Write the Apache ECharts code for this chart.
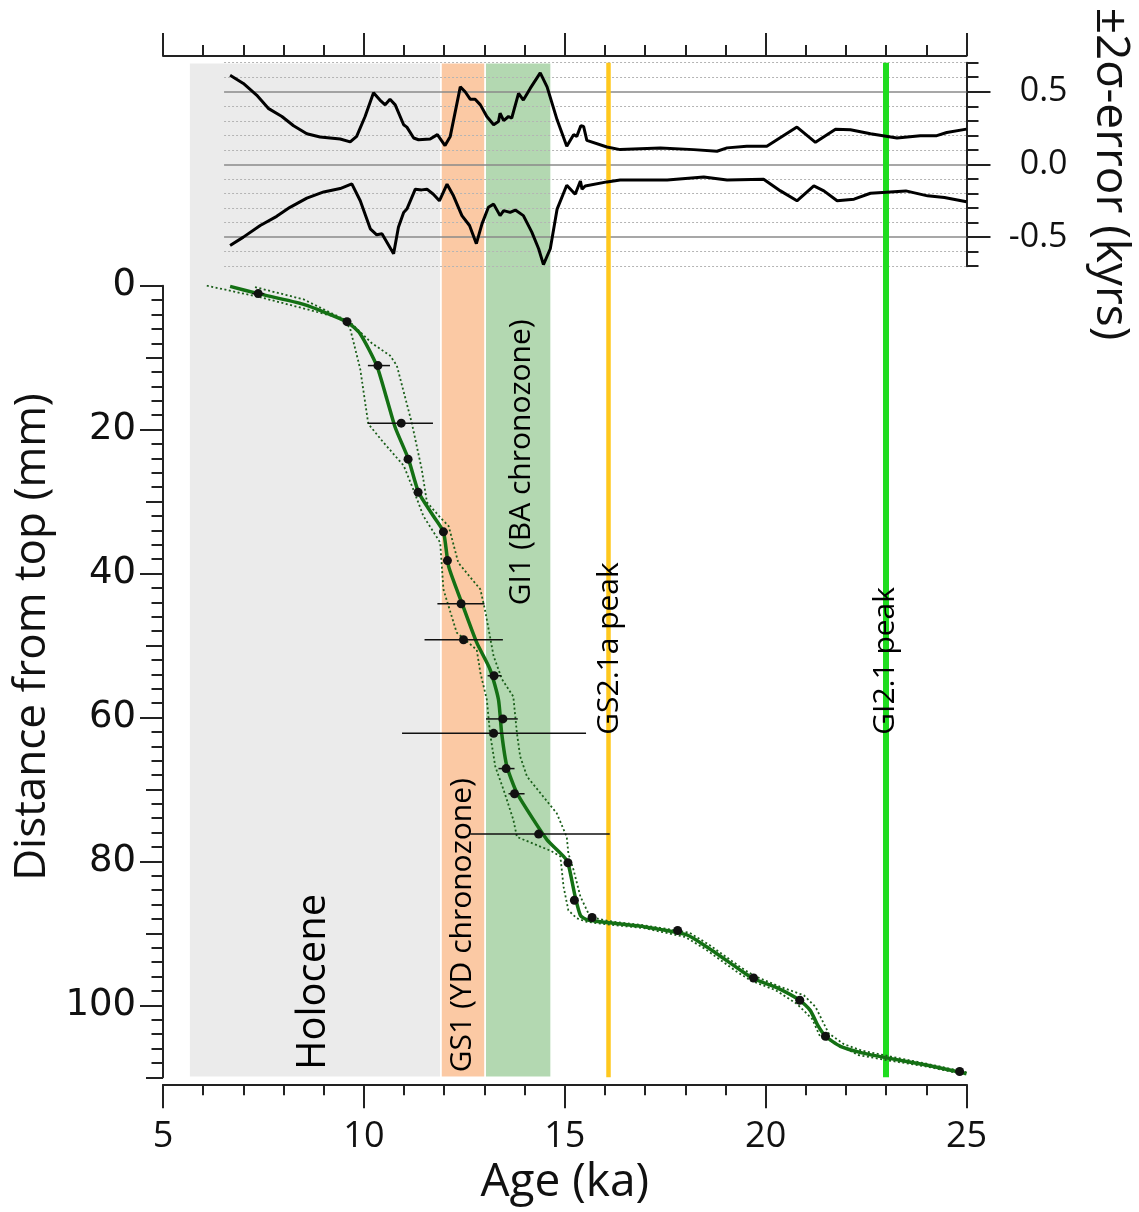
<!DOCTYPE html>
<html>
<head>
<meta charset="utf-8">
<script src="https://cdn.jsdelivr.net/npm/echarts@6.0.0/dist/echarts.min.js"></script>
<style>
html, body { margin: 0; padding: 0; background: #fff; }
#main { width: 1139px; height: 1212px; }
</style>
</head>
<body>
<div id="main"></div>
<script>
// upper panel: +/- 2 sigma age error (age ka, kyrs)
var errPlus = [[6.67,0.614],[7.0,0.557],[7.33,0.477],[7.62,0.386],[7.96,0.33],[8.25,0.266],[8.58,0.211],[8.91,0.189],[9.41,0.175],[9.66,0.155],[9.82,0.193],[10.03,0.33],[10.24,0.493],[10.40,0.443],[10.53,0.41],[10.65,0.448],[10.78,0.41],[10.99,0.273],[11.07,0.257],[11.24,0.182],[11.36,0.17],[11.65,0.175],[11.83,0.205],[12.02,0.13],[12.15,0.193],[12.40,0.534],[12.52,0.5],[12.65,0.448],[12.77,0.448],[12.90,0.41],[13.06,0.33],[13.23,0.273],[13.35,0.295],[13.39,0.352],[13.48,0.302],[13.60,0.33],[13.68,0.318],[13.85,0.489],[13.97,0.443],[14.14,0.523],[14.39,0.63],[14.56,0.534],[14.81,0.307],[15.05,0.125],[15.22,0.205],[15.30,0.193],[15.40,0.266],[15.47,0.261],[15.55,0.166],[16.05,0.12],[16.38,0.102],[17.38,0.114],[18.21,0.102],[18.79,0.091],[19.04,0.114],[19.53,0.125],[20.03,0.125],[20.78,0.257],[21.24,0.152],[21.74,0.243],[22.11,0.239],[22.61,0.211],[23.27,0.182],[23.85,0.198],[24.26,0.198],[24.51,0.22],[25.0,0.243]];
var errMinus = [[6.67,-0.557],[7.0,-0.5],[7.42,-0.42],[7.83,-0.357],[8.16,-0.295],[8.58,-0.232],[9.0,-0.189],[9.41,-0.166],[9.70,-0.134],[9.91,-0.25],[10.16,-0.443],[10.32,-0.484],[10.45,-0.477],[10.74,-0.614],[10.86,-0.432],[10.99,-0.33],[11.07,-0.307],[11.28,-0.17],[11.44,-0.175],[11.57,-0.17],[11.73,-0.205],[11.88,-0.25],[12.07,-0.136],[12.23,-0.216],[12.44,-0.352],[12.63,-0.42],[12.80,-0.545],[12.94,-0.409],[13.10,-0.295],[13.23,-0.273],[13.39,-0.352],[13.48,-0.318],[13.64,-0.33],[13.77,-0.314],[13.97,-0.352],[14.18,-0.466],[14.35,-0.58],[14.47,-0.689],[14.64,-0.58],[14.81,-0.307],[15.05,-0.143],[15.26,-0.205],[15.39,-0.114],[15.43,-0.17],[15.51,-0.148],[16.05,-0.12],[16.38,-0.107],[17.55,-0.107],[18.46,-0.086],[19.04,-0.107],[19.95,-0.102],[20.37,-0.182],[20.78,-0.25],[21.20,-0.148],[21.45,-0.182],[21.78,-0.25],[22.20,-0.239],[22.61,-0.198],[23.49,-0.182],[24.03,-0.216],[24.45,-0.227],[25.0,-0.257]];
var errDotted = [0.7, 0.6, 0.4, 0.3, 0.2, 0.1, -0.1, -0.2, -0.3, -0.4, -0.6, -0.7];
var errSolid = [0.5, 0, -0.5];
var errTicks = [-0.5, 0, 0.5];

// age model (age ka, depth mm)
var modelMedian = [[6.67,0.1],[7.37,1.1],[8.5,2.6],[9.57,5.0],[9.91,6.7],[10.32,11.1],[10.57,15.7],[10.78,19.7],[11.11,24.1],[11.36,28.7],[11.73,32.0],[11.98,34.2],[12.11,39.0],[12.44,44.1],[12.81,49.6],[13.14,53.3],[13.35,57.5],[13.43,62.2],[13.56,66.8],[13.81,70.5],[14.22,74.2],[14.56,77.0],[14.97,79.3],[15.08,80.2],[15.26,84.9],[15.39,87.5],[15.55,88.1],[16.05,88.5],[17.0,89.1],[18.04,90.2],[18.54,91.9],[19.37,95.1],[19.70,96.3],[20.3,97.6],[20.85,99.3],[21.11,100.7],[21.3,102.8],[21.49,104.3],[21.86,105.7],[22.4,106.6],[23.02,107.3],[24.0,108.3],[24.93,109.4],[25.0,109.5]];
var modelYoung = [[6.09,0.0],[7.42,1.6],[9.49,4.6],[9.66,6.0],[9.91,11.6],[10.11,19.2],[10.49,21.8],[10.99,25.0],[11.23,28.3],[11.48,32.0],[11.9,35.7],[11.98,42.2],[12.31,48.2],[12.81,50.6],[12.90,53.8],[13.06,57.5],[13.14,62.2],[13.27,66.8],[13.48,70.1],[13.72,74.2],[13.81,76.6],[14.64,78.5],[14.89,79.3],[14.97,83.5],[15.09,86.8],[15.30,87.9],[15.55,88.4],[16.0,88.7],[17.0,89.3],[18.0,90.5],[18.5,92.2],[19.3,95.4],[19.65,96.6],[20.25,97.9],[20.78,99.8],[21.16,101.9],[21.36,104.4],[21.69,105.1],[22.3,106.9],[23.0,107.6],[24.0,108.5],[24.95,109.6]];
var modelOld = [[7.29,0.2],[8.5,1.9],[9.66,5.1],[10.2,8.0],[10.65,9.7],[10.82,11.1],[11.19,19.0],[11.44,25.5],[11.57,30.1],[11.9,32.2],[12.11,33.4],[12.35,38.5],[12.9,42.2],[13.02,45.2],[13.23,51.5],[13.44,54.7],[13.72,57.1],[13.81,62.2],[13.89,65.4],[14.06,68.2],[14.80,73.3],[15.05,76.6],[15.09,78.9],[15.22,81.2],[15.39,84.9],[15.63,87.7],[16.1,88.3],[17.0,88.9],[18.1,89.9],[18.6,91.6],[19.4,94.8],[19.75,96.0],[20.35,97.4],[20.95,98.6],[21.24,100.2],[21.57,103.9],[21.95,105.4],[22.4,106.3],[23.1,107.1],[24.0,108.1],[25.0,109.3]];

// dated samples: age, depth, min age, max age
var dates = [[7.37,1.1,7.22,7.52],[9.58,5.0,9.48,9.68],[10.35,11.1,10.1,10.65],[10.93,19.1,10.1,11.72],[11.1,24.1,11.0,11.2],[11.35,28.7,11.27,11.43],[11.98,34.2,11.88,12.08],[12.08,38.2,12.0,12.16],[12.42,44.2,11.83,13.0],[12.48,49.2,11.51,13.46],[13.24,54.2,13.08,13.42],[13.46,60.2,13.04,13.83],[13.23,62.2,10.95,15.53],[13.54,67.1,13.35,13.75],[13.75,70.6,13.6,14.0],[14.35,76.2,12.65,16.12],[15.08,80.2,14.98,15.18],[15.24,85.4,15.16,15.32],[15.68,87.8,15.6,15.76],[17.81,89.6,17.71,17.91],[19.70,96.2,19.6,19.8],[20.85,99.3,20.75,20.95],[21.49,104.3,21.39,21.59],[24.83,109.2,24.73,24.93]];
var depthTicks = [0, 20, 40, 60, 80, 100];

var bands = [
    { from: 5.65, to: 11.92, color: '#ebebeb' },
    { from: 11.92, to: 13.02, color: '#fbc9a4' },
    { from: 13.02, to: 14.66, color: '#b3d8b1' }
];
var peaks = [
    { age: 16.08, color: '#ffc81e', width: 4.5 },
    { age: 23.0, color: '#1fdc1f', width: 6 }
];
// label text, age, depth of text start, font size
var zoneLabels = [
    ['Holocene', 8.74, 109.0, 40],
    ['GS1 (YD chronozone)', 12.45, 109.3, 30],
    ['GI1 (BA chronozone)', 13.92, 44.4, 30],
    ['GS2.1a peak', 16.11, 62.4, 30],
    ['GI2.1 peak', 22.98, 62.4, 30]
];

var axisColor = '#222';
var font = '"Open Sans", "DejaVu Sans", sans-serif';

var myChart = echarts.init(document.getElementById('main'));

var gridLines = [];
for (var i = 0; i < errDotted.length; i++) {
    gridLines.push([{ coord: [6.52, errDotted[i]], lineStyle: { color: '#b4b4b4', width: 1, type: [2, 2] } }, { coord: [25, errDotted[i]] }]);
}
for (var i = 0; i < errSolid.length; i++) {
    gridLines.push([{ coord: [6.52, errSolid[i]], lineStyle: { color: '#8a8a8a', width: 1.5, type: 'solid' } }, { coord: [25, errSolid[i]] }]);
}

var option = {
    animation: false,
    backgroundColor: '#fff',
    grid: [
        { left: 163, top: 62.7, width: 803.5, height: 1014.6 },
        { left: 163, top: 62.7, width: 803.5, height: 203.5 },
        { left: 163, top: 285.7, width: 803.5, height: 791.6 }
    ],
    xAxis: [
        { gridIndex: 0, type: 'value', min: 5, max: 25, show: false },
        {
            gridIndex: 1, type: 'value', min: 5, max: 25, interval: 5, position: 'top', offset: 6.7,
            axisLine: { onZero: false, lineStyle: { color: axisColor, width: 2 } },
            axisTick: { length: 23, lineStyle: { color: axisColor, width: 2 } },
            minorTick: { show: true, splitNumber: 5, length: 11, lineStyle: { color: axisColor, width: 2 } },
            axisLabel: { show: false },
            splitLine: { show: false }
        },
        {
            gridIndex: 2, type: 'value', min: 5, max: 25, interval: 5, position: 'bottom', offset: 7,
            axisLine: { onZero: false, lineStyle: { color: axisColor, width: 2 } },
            axisTick: { length: 24, lineStyle: { color: axisColor, width: 2 } },
            minorTick: { show: true, splitNumber: 5, length: 11, lineStyle: { color: axisColor, width: 2 } },
            axisLabel: { margin: 34, fontSize: 36, color: '#111', fontFamily: '"Liberation Sans Narrow", "Open Sans", sans-serif' },
            splitLine: { show: false },
            name: 'Age (ka)', nameLocation: 'middle', nameGap: 76,
            nameTextStyle: { fontSize: 46, color: '#111', fontFamily: font }
        }
    ],
    yAxis: [
        { gridIndex: 0, type: 'value', min: 0, max: 1, show: false },
        {
            gridIndex: 1, type: 'value', min: -0.7, max: 0.7, interval: 0.1, position: 'right',
            axisLine: { show: true, onZero: false, lineStyle: { color: axisColor, width: 2 } },
            axisTick: { length: 12, lineStyle: { color: axisColor, width: 2 } },
            axisLabel: { show: false },
            splitLine: { show: false }
        },
        {
            gridIndex: 1, type: 'value', min: -0.7, max: 0.7, position: 'right',
            axisLine: { show: false, onZero: false },
            axisTick: { length: 24, customValues: errTicks, lineStyle: { color: axisColor, width: 2 } },
            axisLabel: {
                customValues: errTicks, align: 'right', margin: 101, fontSize: 34, color: '#111', fontFamily: font,
                formatter: function (v) { return v.toFixed(1); }
            },
            splitLine: { show: false }
        },
        {
            gridIndex: 2, type: 'value', min: 0, max: 110, inverse: true, position: 'left',
            axisLine: { show: true, onZero: false, lineStyle: { color: axisColor, width: 2 } },
            axisTick: { length: 23, customValues: depthTicks, lineStyle: { color: axisColor, width: 2 } },
            axisLabel: { customValues: depthTicks, margin: 27, fontSize: 37, color: '#111', fontFamily: '"DejaVu Sans", sans-serif' },
            splitLine: { show: false }
        },
        {
            gridIndex: 2, type: 'value', min: 0, max: 110, inverse: true, interval: 10, position: 'left',
            axisLine: { show: false, onZero: false },
            axisTick: { length: 17, lineStyle: { color: axisColor, width: 2 } },
            axisLabel: { show: false },
            splitLine: { show: false }
        },
        {
            gridIndex: 2, type: 'value', min: 0, max: 110, inverse: true, interval: 2, position: 'left',
            axisLine: { show: false, onZero: false },
            axisTick: { length: 11.5, lineStyle: { color: axisColor, width: 2 } },
            axisLabel: { show: false },
            splitLine: { show: false }
        }
    ],
    graphic: [
        {
            type: 'text', x: 32, y: 637, rotation: Math.PI / 2,
            style: { text: 'Distance from top (mm)', font: '44px "Open Sans", sans-serif', fill: '#111', align: 'center', verticalAlign: 'middle' }
        },
        {
            type: 'text', x: 1110, y: 174, rotation: -Math.PI / 2,
            style: { text: '\u00b12\u03c3-error (kyrs)', font: '46px "Open Sans", sans-serif', fill: '#111', align: 'center', verticalAlign: 'middle' }
        }
    ],
    series: [
        {
            name: 'zones', type: 'line', xAxisIndex: 0, yAxisIndex: 0, data: [], z: 1,
            markArea: {
                silent: true,
                itemStyle: { borderColor: '#fff', borderWidth: 1.5 },
                data: bands.map(function (b) {
                    return [{ xAxis: b.from, itemStyle: { color: b.color } }, { xAxis: b.to }];
                })
            }
        },
        {
            name: 'grid', type: 'line', xAxisIndex: 1, yAxisIndex: 1, data: [], z: 2,
            markLine: { silent: true, symbol: ['none', 'none'], label: { show: false }, data: gridLines }
        },
        {
            name: 'peaks', type: 'line', xAxisIndex: 0, yAxisIndex: 0, data: [], z: 3,
            markLine: {
                silent: true, symbol: ['none', 'none'], label: { show: false },
                data: peaks.map(function (p) {
                    return { xAxis: p.age, lineStyle: { color: p.color, width: p.width, type: 'solid' } };
                })
            }
        },
        {
            name: '+2s', type: 'line', xAxisIndex: 1, yAxisIndex: 1, data: errPlus, z: 5,
            showSymbol: false, lineStyle: { color: '#000', width: 3 }
        },
        {
            name: '-2s', type: 'line', xAxisIndex: 1, yAxisIndex: 1, data: errMinus, z: 5,
            showSymbol: false, lineStyle: { color: '#000', width: 3 }
        },
        {
            name: 'young', type: 'line', xAxisIndex: 2, yAxisIndex: 3, data: modelYoung, z: 5,
            showSymbol: false, lineStyle: { color: '#1a5e1a', width: 1.8, type: [2, 2.5] }
        },
        {
            name: 'old', type: 'line', xAxisIndex: 2, yAxisIndex: 3, data: modelOld, z: 5,
            showSymbol: false, lineStyle: { color: '#1a5e1a', width: 1.8, type: [2, 2.5] }
        },
        {
            name: 'median', type: 'line', xAxisIndex: 2, yAxisIndex: 3, data: modelMedian, z: 6,
            showSymbol: false, smooth: 0.2, lineStyle: { color: '#147014', width: 3.5 }
        },
        {
            name: 'errorbars', type: 'custom', xAxisIndex: 2, yAxisIndex: 3, data: dates, z: 7,
            encode: { x: [0, 2, 3], y: 1 },
            renderItem: function (params, api) {
                var y = api.value(1);
                var p1 = api.coord([api.value(2), y]);
                var p2 = api.coord([api.value(3), y]);
                return {
                    type: 'line',
                    shape: { x1: p1[0], y1: p1[1], x2: p2[0], y2: p2[1] },
                    style: { stroke: '#111', lineWidth: 1.5 }
                };
            }
        },
        {
            name: 'dates', type: 'scatter', xAxisIndex: 2, yAxisIndex: 3, z: 8,
            data: dates.map(function (d) { return [d[0], d[1]]; }),
            symbolSize: 9, itemStyle: { color: '#111', opacity: 1 }
        },
        {
            name: 'labels', type: 'scatter', xAxisIndex: 2, yAxisIndex: 3, z: 9, symbolSize: 0, silent: true,
            itemStyle: { opacity: 1 },
            data: zoneLabels.map(function (l) {
                return { name: l[0], value: [l[1], l[2]], label: { fontSize: l[3] } };
            }),
            label: {
                show: true, formatter: '{b}', rotate: 90, position: 'inside', align: 'left', verticalAlign: 'middle',
                color: '#000', fontFamily: font
            }
        }
    ]
};

myChart.setOption(option);
</script>
</body>
</html>
